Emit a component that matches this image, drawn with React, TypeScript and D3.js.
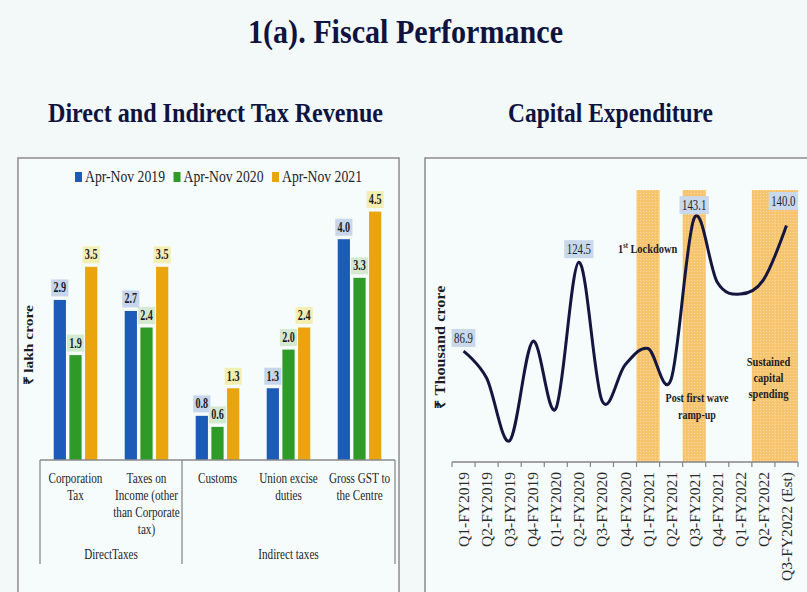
import React from "react";
import * as d3 from "d3";

// ---- Tax revenue (₹ lakh crore) ----
const taxCategories = [
  "Corporation Tax",
  "Taxes on Income (other than Corporate tax)",
  "Customs",
  "Union excise duties",
  "Gross GST to the Centre",
];
const taxCategoryLines = [
  ["Corporation", "Tax"],
  ["Taxes on", "Income (other", "than Corporate", "tax)"],
  ["Customs"],
  ["Union excise", "duties"],
  ["Gross GST to", "the Centre"],
];
const taxGroupNames = ["DirectTaxes", "Indirect taxes"];
const taxGroupSizes = [2, 3];
const periods = ["Apr-Nov 2019", "Apr-Nov 2020", "Apr-Nov 2021"];
const revenue2019 = [2.9, 2.7, 0.8, 1.3, 4.0];
const revenue2020 = [1.9, 2.4, 0.6, 2.0, 3.3];
const revenue2021 = [3.5, 3.5, 1.3, 2.4, 4.5];

// ---- Capital expenditure (₹ thousand crore) ----
const quarters = [
  "Q1-FY2019", "Q2-FY2019", "Q3-FY2019", "Q4-FY2019",
  "Q1-FY2020", "Q2-FY2020", "Q3-FY2020", "Q4-FY2020",
  "Q1-FY2021", "Q2-FY2021", "Q3-FY2021", "Q4-FY2021",
  "Q1-FY2022", "Q2-FY2022", "Q3-FY2022 (Est)",
];
const capex = [86.9, 75.5, 49.0, 91.0, 62.5, 124.5, 66.0, 81.0, 88.0, 75.0, 143.1, 116.0, 111.0, 117.0, 140.0];
const labelledQuarters = ["Q1-FY2019", "Q2-FY2020", "Q3-FY2021", "Q3-FY2022 (Est)"];
const shadedQuarters = ["Q1-FY2021", "Q3-FY2021", "Q2-FY2022", "Q3-FY2022 (Est)"];

const SERIF = '"Liberation Serif", "Times New Roman", serif';
const NAVY = "#10133f";
const INK = "#1c1c28";
const BAR_COLORS = ["#1c5bb8", "#2e9a28", "#eaa40e"];
const BOX_COLORS = ["#c8d6ec", "#d5e9d1", "#f3eeb2"];

function CText({ x, y, sx = 1, children, ...rest }: any) {
  return (
    <text transform={`translate(${x},${y}) scale(${sx},1)`} fontFamily={SERIF} {...rest}>
      {children}
    </text>
  );
}

// rough advance width of a numeric label in em
const numEm = (s: string) => s.split("").reduce((a, c) => a + (c === "." ? 0.25 : 0.5), 0);

function TaxChart() {
  const series = [revenue2019, revenue2020, revenue2021];
  const x0 = d3.scaleBand<string>().domain(taxCategories).range([40, 395]).padding(0);
  const x1 = d3.scaleBand<string>().domain(periods).range([0, x0.bandwidth()]).paddingInner(0.22).paddingOuter(0.875);
  const y = d3.scaleLinear().domain([0, 5]).range([460, 184]);

  // group boundaries along the category axis
  const groupEdges: number[] = [x0.range()[0]];
  let acc = 0;
  taxGroupSizes.forEach((n) => {
    acc += n;
    groupEdges.push(x0.range()[0] + acc * x0.step());
  });

  const lblSize = 14.5;
  const lblSx = 0.7;

  return (
    <g>
      {/* legend */}
      {periods.map((p, i) => {
        const lx = 75 + i * 98.5;
        return (
          <g key={p}>
            <rect x={lx} y={172} width={7} height={10} fill={BAR_COLORS[i]} />
            <text x={lx + 10} y={182} fontFamily={SERIF} fontSize={17} textLength={80} lengthAdjust="spacingAndGlyphs" fill={INK}>
              {p}
            </text>
          </g>
        );
      })}

      {/* y-axis title */}
      <text
        transform={`translate(33,345) rotate(-90)`}
        textAnchor="middle"
        fontFamily={SERIF}
        fontWeight="bold"
        fontSize={13}
        textLength={80}
        lengthAdjust="spacingAndGlyphs"
        fill={INK}
      >
        ₹ lakh crore
      </text>

      {/* bars */}
      {taxCategories.map((c, ci) => (
        <g key={c} transform={`translate(${x0(c)},0)`}>
          {periods.map((p, si) => {
            const v = series[si][ci];
            const bx = x1(p)!;
            const bw = x1.bandwidth();
            const top = y(v);
            const txt = v.toFixed(1);
            const tw = numEm(txt) * lblSize * lblSx;
            const boxW = tw + 4.5;
            const boxBottom = top - 3.5;
            return (
              <g key={p}>
                <rect x={bx} y={top} width={bw} height={y(0) - top} fill={BAR_COLORS[si]} />
                <rect x={bx + bw / 2 - boxW / 2} y={boxBottom - 17} width={boxW} height={17} fill={BOX_COLORS[si]} />
                <CText x={bx + bw / 2} y={boxBottom - 4} sx={lblSx} textAnchor="middle" fontSize={lblSize} fontWeight="bold" fill={INK}>
                  {txt}
                </CText>
              </g>
            );
          })}
        </g>
      ))}

      {/* category axis */}
      <line x1={x0.range()[0]} x2={x0.range()[1]} y1={y(0)} y2={y(0)} stroke="#8a8a8a" strokeWidth={1.3} />
      {groupEdges.map((gx, i) => (
        <line key={i} x1={gx} x2={gx} y1={y(0)} y2={564} stroke="#8a8a8a" strokeWidth={1.3} />
      ))}
      {taxCategories.map((c, ci) => (
        <g key={c}>
          {taxCategoryLines[ci].map((ln, li) => (
            <CText key={li} x={x0(c)! + x0.bandwidth() / 2} y={483 + li * 17} sx={0.72} textAnchor="middle" fontSize={15.5} fill={INK}>
              {ln}
            </CText>
          ))}
        </g>
      ))}
      {taxGroupNames.map((g, gi) => (
        <CText key={g} x={(groupEdges[gi] + groupEdges[gi + 1]) / 2} y={559} sx={0.72} textAnchor="middle" fontSize={15.5} fill={INK}>
          {g}
        </CText>
      ))}
    </g>
  );
}

function CapexChart() {
  const x = d3.scaleBand<string>().domain(quarters).range([452, 798]).padding(0);
  const y = d3.scaleLinear().domain([40, 155]).range([462, 190]);
  const cx = (q: string) => x(q)! + x.bandwidth() / 2;

  const line = d3
    .line<number>()
    .x((_, i) => cx(quarters[i]))
    .y((d) => y(d))
    .curve(d3.curveCardinal.tension(0));

  const ticks = [...quarters.map((q) => x(q)!), x.range()[1]];
  const plotRight = x.range()[1];
  const lblSize = 15;
  const lblSx = 0.72;

  return (
    <g>
      <defs>
        <pattern id="dotFill" width={3} height={3} patternUnits="userSpaceOnUse">
          <rect width={3} height={3} fill="#f7c46d" />
          <circle cx={1.5} cy={1.5} r={0.7} fill="#fcd99f" />
        </pattern>
      </defs>

      {/* highlighted periods */}
      {shadedQuarters.map((q) => (
        <rect key={q} x={x(q)} y={y.range()[1]} width={x.bandwidth()} height={y.range()[0] - y.range()[1]} fill="url(#dotFill)" />
      ))}

      {/* y-axis title */}
      <text
        transform={`translate(445,347) rotate(-90)`}
        textAnchor="middle"
        fontFamily={SERIF}
        fontWeight="bold"
        fontSize={14}
        textLength={123}
        lengthAdjust="spacingAndGlyphs"
        fill={INK}
      >
        ₹ Thousand crore
      </text>

      {/* x axis */}
      <line x1={x.range()[0]} x2={x.range()[1]} y1={y(40)} y2={y(40)} stroke="#858585" strokeWidth={1.3} />
      {ticks.map((tx, i) => (
        <line key={i} x1={tx} x2={tx} y1={y(40)} y2={y(40) + 5} stroke="#858585" strokeWidth={1.2} />
      ))}
      {quarters.map((q) => (
        <text
          key={q}
          transform={`translate(${cx(q) + 5.5},472) rotate(-90)`}
          textAnchor="end"
          fontFamily={SERIF}
          fontSize={15.5}
          fill="#2a2a2a"
        >
          {q}
        </text>
      ))}

      {/* series */}
      <path d={line(capex) || ""} fill="none" stroke="#141640" strokeWidth={3} strokeLinejoin="round" />

      {/* value labels */}
      {quarters.map((q, i) => {
        if (!labelledQuarters.includes(q)) return null;
        const txt = capex[i].toFixed(1);
        const tw = numEm(txt) * lblSize * lblSx;
        const boxW = tw + 5;
        let bx = cx(q) - boxW / 2;
        let boxBottom = y(capex[i]) - 4;
        // labels that would spill past the plot edge sit in the top-right corner
        if (bx + boxW > plotRight) {
          bx = plotRight - boxW;
          boxBottom = y.range()[1] + 20;
        }
        return (
          <g key={q}>
            <rect x={bx} y={boxBottom - 18} width={boxW} height={18} fill="#c9d8ea" />
            <CText x={bx + boxW / 2} y={boxBottom - 4.5} sx={lblSx} textAnchor="middle" fontSize={lblSize} fill={INK}>
              {txt}
            </CText>
          </g>
        );
      })}

      {/* annotations */}
      <CText x={618} y={253} sx={0.8} fontSize={13} fontWeight="bold" fill={INK}>
        1<tspan fontSize={8} dy={-5}>st</tspan>
        <tspan dy={5}> Lockdown</tspan>
      </CText>
      {["Post first wave", "ramp-up"].map((t, i) => (
        <CText key={t} x={697} y={402 + i * 17} sx={0.77} textAnchor="middle" fontSize={13} fontWeight="bold" fill={INK}>
          {t}
        </CText>
      ))}
      {["Sustained", "capital", "spending"].map((t, i) => (
        <CText key={t} x={768.5} y={366 + i * 16} sx={0.8} textAnchor="middle" fontSize={13} fontWeight="bold" fill={INK}>
          {t}
        </CText>
      ))}
    </g>
  );
}

export default function App() {
  return (
    <svg
      width={807}
      height={592}
      style={{ position: "fixed", left: 0, top: 0, display: "block" }}
      xmlns="http://www.w3.org/2000/svg"
    >
      <rect width={807} height={592} fill="#f2f9f8" />

      <text x={248} y={43} fontFamily={SERIF} fontWeight="bold" fontSize={33} textLength={315} lengthAdjust="spacingAndGlyphs" fill={NAVY}>
        1(a). Fiscal Performance
      </text>
      <text x={48} y={122} fontFamily={SERIF} fontWeight="bold" fontSize={27} textLength={335} lengthAdjust="spacingAndGlyphs" fill={NAVY}>
        Direct and Indirect Tax Revenue
      </text>
      <text x={508} y={122} fontFamily={SERIF} fontWeight="bold" fontSize={27} textLength={205} lengthAdjust="spacingAndGlyphs" fill={NAVY}>
        Capital Expenditure
      </text>

      {/* panel frames */}
      <rect x={18} y={158} width={381} height={450} fill="#f6fcfb" stroke="#8c8c8c" strokeWidth={1.5} />
      <rect x={425} y={158} width={400} height={450} fill="#f6fcfb" stroke="#8c8c8c" strokeWidth={1.5} />

      <TaxChart />
      <CapexChart />
    </svg>
  );
}
